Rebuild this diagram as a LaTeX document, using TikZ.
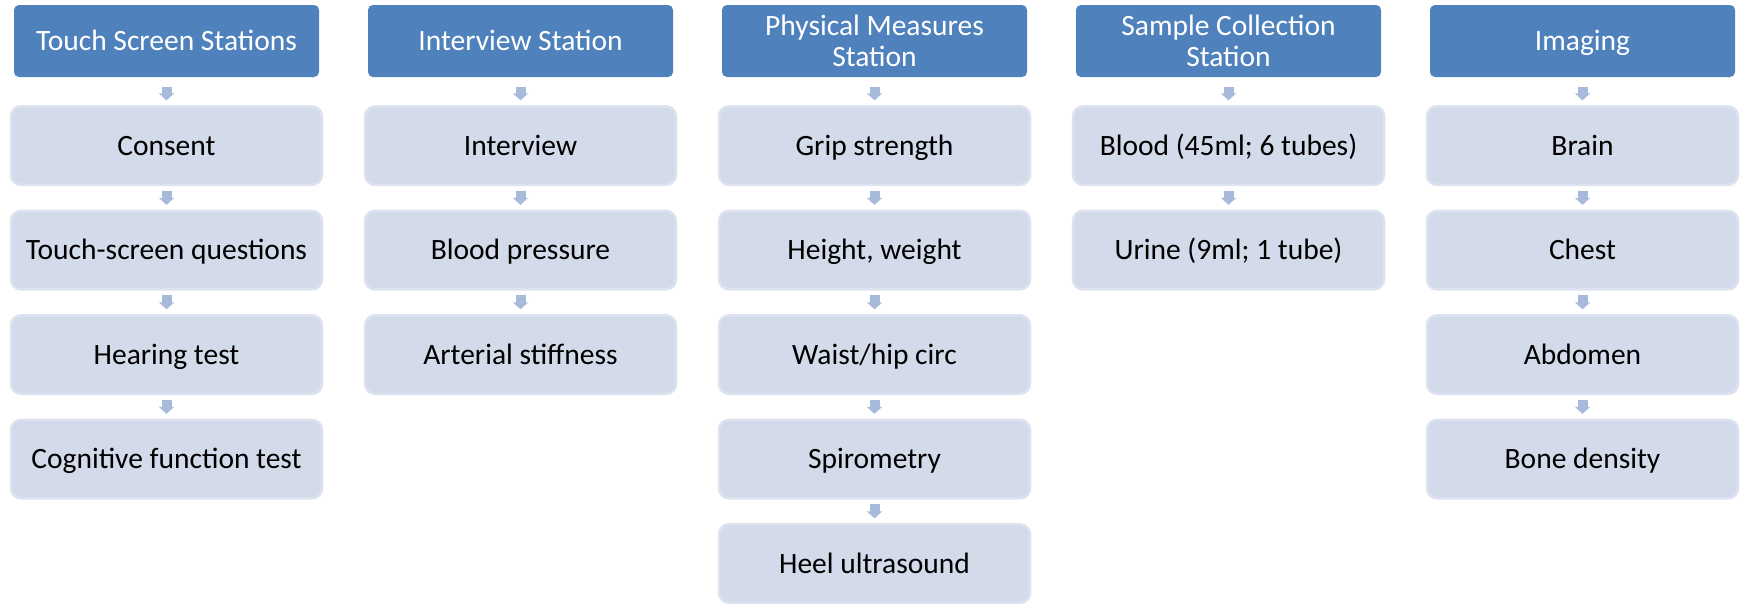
\documentclass[tikz,border=0pt]{standalone}
\usepackage{fontspec}
\setmainfont{Carlito}
\usetikzlibrary{arrows.meta}
\definecolor{headblue}{HTML}{4F81BD}
\definecolor{boxfill}{HTML}{D3DAEA}
\definecolor{boxedge}{HTML}{DCE2EF}
\definecolor{arrowblue}{HTML}{A7BADB}

\begin{document}
\begin{tikzpicture}[x=1pt, y=-1pt, font=\fontsize{29.5}{31}\selectfont,
  head/.style={fill=headblue, text=white, rounded corners=5pt, minimum width=305pt,
    minimum height=72pt, align=center, inner sep=0pt, outer sep=0pt,
    text height=19pt, text depth=0pt},
  twoline/.style={text height=50pt},
  item/.style={fill=boxfill, draw=boxedge, line width=2.5pt, rounded corners=10pt,
    minimum width=311pt, minimum height=78.5pt, inner sep=0pt, outer sep=0pt,
    text height=19pt, text depth=0pt},
  flow/.style={draw=arrowblue, line width=10pt, -{Triangle[width=15pt,length=7pt]},
    shorten <=6pt, shorten >=6pt},
  first/.style={shorten <=10pt}]
  \useasboundingbox (0,0) rectangle (1743,605);
  % headers
  \node[head] (h1) at (166.5,41) {Touch Screen Stations};
  \node[head] (h2) at (520.5,41) {Interview Station};
  \node[head, twoline] (h3) at (874.5,41) {Physical Measures\\Station};
  \node[head, twoline] (h4) at (1228.5,41) {Sample Collection\\Station};
  \node[head] (h5) at (1582.5,41) {Imaging};
  % touch screen
  \node[item] (t1) at (166.5,145.6) {Consent};
  \node[item] (t2) at (166.5,250.1) {Touch-screen questions};
  \node[item] (t3) at (166.5,354.6) {Hearing test};
  \node[item] (t4) at (166.5,459.1) {Cognitive function test};
  % interview
  \node[item] (i1) at (520.5,145.6) {Interview};
  \node[item] (i2) at (520.5,250.1) {Blood pressure};
  \node[item] (i3) at (520.5,354.6) {Arterial stiffness};
  % physical measures
  \node[item] (p1) at (874.5,145.6) {Grip strength};
  \node[item] (p2) at (874.5,250.1) {Height, weight};
  \node[item] (p3) at (874.5,354.6) {Waist/hip circ};
  \node[item] (p4) at (874.5,459.1) {Spirometry};
  \node[item] (p5) at (874.5,563.6) {Heel ultrasound};
  % samples
  \node[item] (s1) at (1228.5,145.6) {Blood (45ml; 6 tubes)};
  \node[item] (s2) at (1228.5,250.1) {Urine (9ml; 1 tube)};
  % imaging
  \node[item] (m1) at (1582.5,145.6) {Brain};
  \node[item] (m2) at (1582.5,250.1) {Chest};
  \node[item] (m3) at (1582.5,354.6) {Abdomen};
  \node[item] (m4) at (1582.5,459.1) {Bone density};
  % small arrows between the steps
  \draw[flow, first] (h1) -- (t1);
  \draw[flow] (t1) -- (t2);
  \draw[flow] (t2) -- (t3);
  \draw[flow] (t3) -- (t4);
  \draw[flow, first] (h2) -- (i1);
  \draw[flow] (i1) -- (i2);
  \draw[flow] (i2) -- (i3);
  \draw[flow, first] (h3) -- (p1);
  \draw[flow] (p1) -- (p2);
  \draw[flow] (p2) -- (p3);
  \draw[flow] (p3) -- (p4);
  \draw[flow] (p4) -- (p5);
  \draw[flow, first] (h4) -- (s1);
  \draw[flow] (s1) -- (s2);
  \draw[flow, first] (h5) -- (m1);
  \draw[flow] (m1) -- (m2);
  \draw[flow] (m2) -- (m3);
  \draw[flow] (m3) -- (m4);
\end{tikzpicture}
\end{document}
